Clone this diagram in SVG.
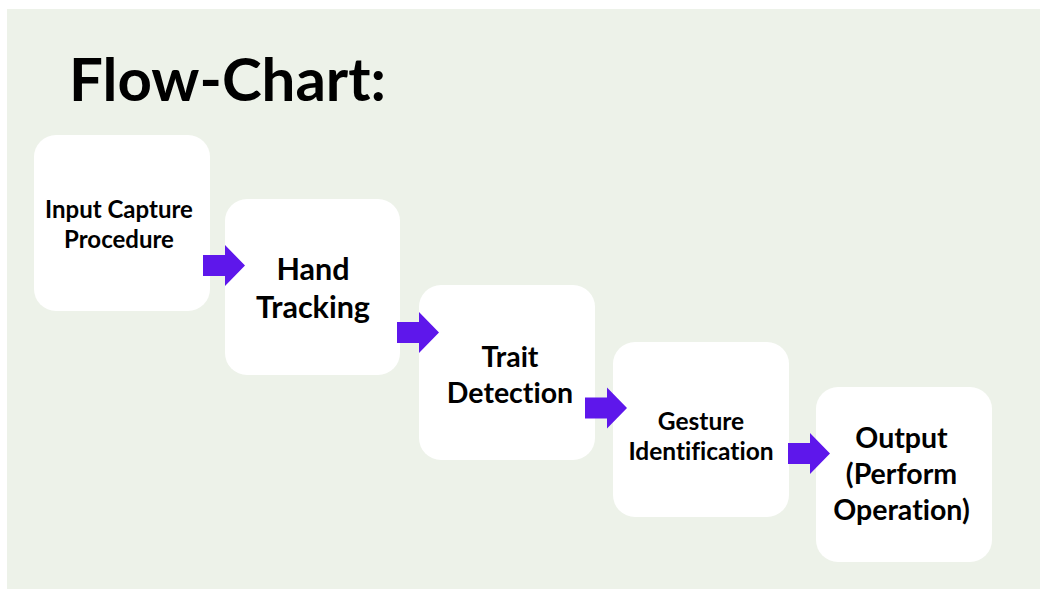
<svg xmlns="http://www.w3.org/2000/svg" xmlns:xlink="http://www.w3.org/1999/xlink" width="1040" height="589" viewBox="0 0 1040 589">
  <style>
    .box { fill: #ffffff; }
    .lbl { font-family: Lato, "Open Sans", "Liberation Sans", sans-serif; font-weight: 700; fill: #000000; text-anchor: middle; font-variant-ligatures: none; font-feature-settings: "liga" 0; }
    .arrow { fill: #5e17eb; }
  </style>
  <defs>
    <path id="arrowShape" class="arrow" d="M-42,-10.5 H-20 V-20.5 L0,0 L-20,20.5 V10.5 H-42 Z"/>
  </defs>
  <rect x="0" y="0" width="1040" height="589" fill="#ffffff"/>
  <rect x="7" y="9" width="1033" height="580" fill="#edf2e9"/>
  <text id="title" x="69" y="101" class="lbl" style="text-anchor:start" font-size="60">Flow-Chart:</text>

  <g id="node-input">
    <rect class="box" x="34" y="135" width="176" height="176" rx="22"/>
    <text class="lbl" x="119" y="218" font-size="24">Input Capture</text>
    <text class="lbl" x="119" y="248" font-size="24">Procedure</text>
  </g>
  <g id="node-hand">
    <rect class="box" x="225" y="199" width="175" height="176" rx="22"/>
    <text class="lbl" x="313" y="280" font-size="30.5">Hand</text>
    <text class="lbl" x="313" y="318" font-size="30.5">Tracking</text>
  </g>
  <g id="node-trait">
    <rect class="box" x="419" y="285" width="176" height="175" rx="22"/>
    <text class="lbl" x="510" y="367" font-size="28.5">Trait</text>
    <text class="lbl" x="510" y="403" font-size="28.5">Detection</text>
  </g>
  <g id="node-gesture">
    <rect class="box" x="613" y="342" width="176" height="175" rx="22"/>
    <text class="lbl" x="701" y="430" font-size="24.5">Gesture</text>
    <text class="lbl" x="701" y="460" font-size="24.5">Identification</text>
  </g>
  <g id="node-output">
    <rect class="box" x="816" y="387" width="176" height="175" rx="22"/>
    <text class="lbl" x="901.5" y="448" font-size="28.5">Output</text>
    <text class="lbl" x="901.5" y="484" font-size="28.5">(Perform</text>
    <text class="lbl" x="901.5" y="520" font-size="28.5">Operation)</text>
  </g>

  <g id="connectors">
    <use xlink:href="#arrowShape" href="#arrowShape" transform="translate(245,265.5)"/>
    <use xlink:href="#arrowShape" href="#arrowShape" transform="translate(439,332.5)"/>
    <use xlink:href="#arrowShape" href="#arrowShape" transform="translate(627,408)"/>
    <use xlink:href="#arrowShape" href="#arrowShape" transform="translate(830,453.5)"/>
  </g>
</svg>
